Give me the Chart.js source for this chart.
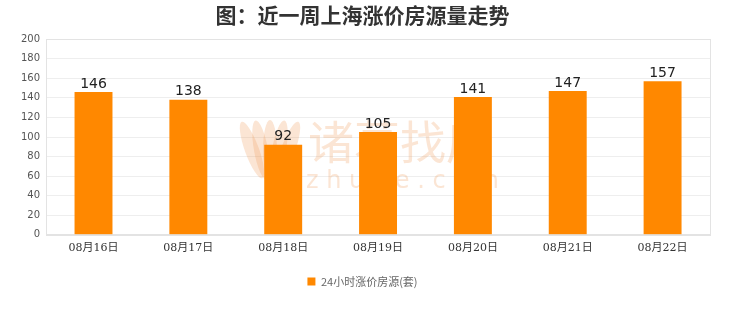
<!DOCTYPE html>
<html>
<head>
<meta charset="utf-8">
<script src="https://cdn.jsdelivr.net/npm/chart.js@4.4.0/dist/chart.umd.min.js"></script>
<style>
  html, body { margin: 0; padding: 0; background: #fff; }
  #grafico { display: block; }
</style>
</head>
<body>
<canvas id="grafico" width="740" height="312"></canvas>
<script>
// Datos
const etiquetas = ["08月16日", "08月17日", "08月18日", "08月19日", "08月20日", "08月21日", "08月22日"];
const cantidades = [146, 138, 92, 105, 141, 147, 157];
const nombreSerie = "24小时涨价房源(套)";
const titulo = "图：近一周上海涨价房源量走势";

// Marco del area del grafico + marca de agua + etiquetas de valor
const extras = {
    id: "extras",
    beforeDatasetsDraw(chart) {
        const { ctx, chartArea: a } = chart;
        ctx.save();
        ctx.strokeStyle = "#e3e3e3";
        ctx.lineWidth = 1;
        ctx.strokeRect(Math.round(a.left) + 0.5, Math.round(a.top) + 0.5,
            Math.round(a.right - a.left), Math.round(a.bottom - a.top));
        // marca de agua
        ctx.fillStyle = "rgba(240,160,100,0.28)";
        // logo (petalos)
        [[-18, -0.35], [-9, -0.18], [0, 0], [9, 0.18], [18, 0.35]].forEach(([dx, rot]) => {
            ctx.beginPath();
            ctx.ellipse(270 + dx, 150, 7, 30, rot, 0, Math.PI * 2);
            ctx.fill();
        });
        ctx.textAlign = "left";
        ctx.textBaseline = "middle";
        ctx.font = "46px 'Noto Sans CJK SC'";
        ctx.fillText("诸葛找房", 308, 142);
        ctx.font = "24px 'DejaVu Sans'";
        ctx.fillText("z h u g e . c o m", 306, 182);
        ctx.restore();
    },
    afterDatasetsDraw(chart) {
        const { ctx } = chart;
        const meta = chart.getDatasetMeta(0);
        ctx.save();
        ctx.fillStyle = "#222";
        ctx.font = "14px 'DejaVu Sans'";
        ctx.textAlign = "center";
        ctx.textBaseline = "bottom";
        meta.data.forEach((bar, i) => {
            ctx.fillText(cantidades[i], bar.x, bar.y - 1);
        });
        ctx.restore();
    }
};

const caracteristicas = {
    type: "bar",
    data: {
        labels: etiquetas,
        datasets: [{
            label: nombreSerie,
            data: cantidades,
            backgroundColor: "#ff8800",
            borderWidth: 0,
            barPercentage: 0.8,
            categoryPercentage: 0.5
        }]
    },
    options: {
        responsive: false,
        animation: false,
        layout: { padding: { left: 15, right: 30, top: 0, bottom: 15 } },
        plugins: {
            title: {
                display: true,
                text: titulo,
                color: "#333",
                font: { family: "'Noto Sans CJK SC'", size: 21, weight: "bold" },
                padding: { top: 2, bottom: 12 }
            },
            legend: {
                position: "bottom",
                labels: {
                    boxWidth: 8,
                    boxHeight: 8,
                    color: "#666",
                    font: { family: "'Noto Sans CJK SC'", size: 11 },
                    padding: 22
                }
            },
            tooltip: { enabled: false }
        },
        scales: {
            x: {
                grid: { display: false },
                border: { color: "#e3e3e3" },
                ticks: {
                    color: "#333",
                    font: { family: "'DejaVu Serif', 'Noto Sans CJK SC'", size: 11 },
                    padding: -1
                }
            },
            y: {
                min: 0,
                max: 200,
                grid: { color: "#eeeeee", drawTicks: false },
                border: { display: false },
                ticks: {
                    stepSize: 20,
                    color: "#555",
                    font: { family: "'DejaVu Sans'", size: 10 },
                    padding: 6
                }
            }
        }
    },
    plugins: [extras]
};

const myChart = new Chart(document.getElementById("grafico"), caracteristicas);
</script>
</body>
</html>
